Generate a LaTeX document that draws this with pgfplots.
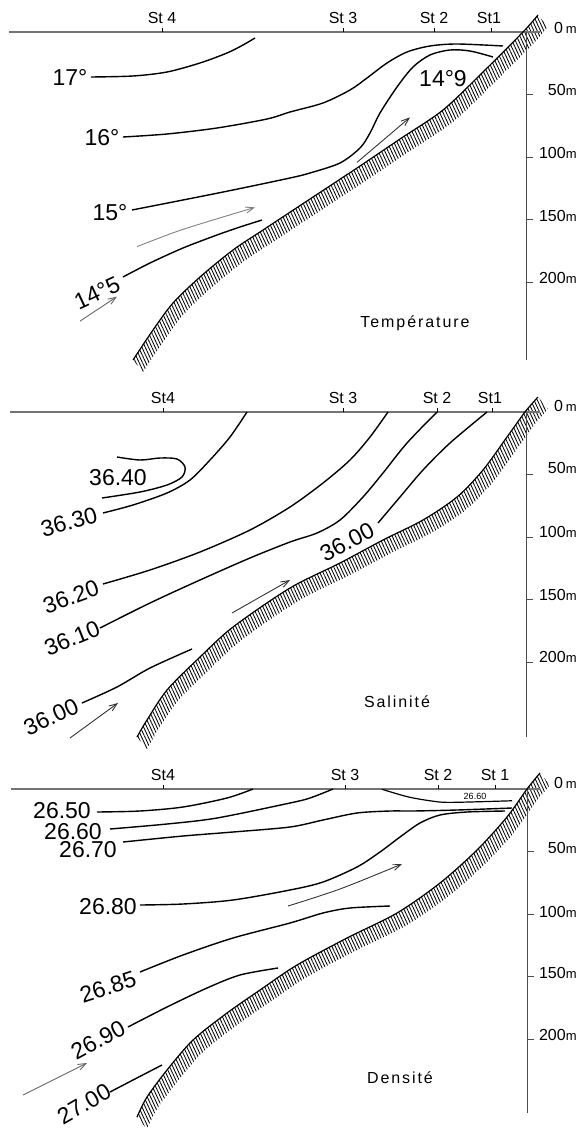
\documentclass[border=0pt]{standalone}
\usepackage{fontspec}
\setmainfont{Liberation Sans}
\usepackage{pgfplots}
\pgfplotsset{compat=1.18}
\usepgfplotslibrary{fillbetween}
\usetikzlibrary{patterns.meta,arrows.meta}
\newcommand{\dm}[1]{#1{\fontsize{6.5}{7}\selectfont m}}
\begin{document}
\begin{tikzpicture}
\pgfplotsset{
  panel/.style={scale only axis, width=290pt, xmin=0, xmax=580, y dir=reverse, hide axis, clip=false, anchor=north west},
}
\tikzset{
  iso/.style={line width=0.7pt, smooth, black},
  lab/.style={font=\fontsize{11.5}{12}\selectfont, inner sep=0pt},
  st/.style={font=\fontsize{8}{9}\selectfont, inner sep=0pt},
  hatch/.style={draw=none, pattern={Lines[angle=-65,distance=1.5pt,line width=0.42pt]}, pattern color=black},
  arr/.style={line width=0.45pt, -{Straight Barb[length=4pt,width=3pt]}},
  floor/.style={line width=0.6pt, smooth, tension=0.5, black},
  flooroff/.style={draw=none, smooth, tension=0.5},
}
% ================= Panel 1 : Temperature =================
\begin{axis}[panel, at={(0pt,0pt)}, height=185pt, ymin=-25.6, ymax=270.4]
\addplot[black!55, line width=0.6pt] coordinates {(9,0)(540,0)};
\addplot[line width=0.4pt, unbounded coords=jump] coordinates {(162,0)(162,-3.5)(162,nan)(343,0)(343,-3.5)(343,nan)(434,0)(434,-3.5)(434,nan)(491,0)(491,-3.5)};
\addplot[line width=0.4pt, black!70] coordinates {(526,0)(526,262)};
\addplot[line width=0.4pt, black!70, unbounded coords=jump] coordinates {(526,50)(533,50)(526,nan)(526,100)(533,100)(526,nan)(526,150)(533,150)(526,nan)(526,200)(533,200)};
% sea floor
\addplot[floor, name path=f1] coordinates {(538,-13.6)(523,0)(483,32)(443,62.4)(400,85.6)(357,108.8)(310,133.6)(263,158.4)(233,174.4)(200,196)(173,216.8)(153,238.4)(133,262.4)};
\addplot[flooroff, name path=g1] coordinates {(548,-4)(533,9.6)(493,41.6)(453,72)(410,95.2)(367,118.4)(320,143.2)(273,168)(243,184)(210,205.6)(183,226.4)(163,248)(143,272)};
\addplot[hatch] fill between[of=f1 and g1];
% isotherms
\addplot[iso] coordinates {(91,36)(133,35.2)(167,32)(200,24.8)(227,16.8)(243,10.4)(255,4.8)};
\addplot[iso] coordinates {(123,84)(167,81.6)(217,76.8)(267,69.6)(290,64)(323,56.8)(350,46.4)(367,36.8)(387,24.8)(407,16)(430,11.2)(457,9.6)(503,11.2)};
\addplot[iso] coordinates {(132,142.4)(183,134.4)(233,126.4)(290,116.8)(310,112.8)(340,104.8)(360,92.8)(370,80.8)(380,64.8)(397,44)(413,28)(430,18.4)(450,14.4)(470,15.2)(493,20)};
\addplot[iso] coordinates {(123,196)(150,184.8)(183,172.8)(217,162.4)(240,156)(262,150.4)};
% arrows
\addplot[arr, smooth, black!50] coordinates {(137,171.7)(183,157.9)(255,140.3)};
\addplot[arr, black!60] coordinates {(80,231.3)(117,211.7)};
\addplot[arr, black!80] coordinates {(357,104.3)(410,68.3)};
% labels
\node[lab] at (axis cs:70,36) {17°};
\node[lab] at (axis cs:102,84.8) {16°};
\node[lab] at (axis cs:110,144.8) {15°};
\node[lab] at (axis cs:443,37.6) {14°9};
\node[lab, rotate=25] at (axis cs:97,208.8) {14°5};
\node[st] at (axis cs:162,-11.2) {St 4};
\node[st] at (axis cs:343,-11.2) {St 3};
\node[st] at (axis cs:434,-11.2) {St 2};
\node[st] at (axis cs:489,-11.2) {St1};
\node[st, anchor=east] at (axis cs:577,-3.5) {\dm{0\,}};
\node[st, anchor=east] at (axis cs:577,46) {\dm{50}};
\node[st, anchor=east] at (axis cs:577,96.5) {\dm{100}};
\node[st, anchor=east] at (axis cs:577,147) {\dm{150}};
\node[st, anchor=east] at (axis cs:577,197) {\dm{200}};
\node[st] at (axis cs:415,232.8) {\addfontfeature{LetterSpace=12}Température};
\end{axis}
% ================= Panel 2 : Salinity =================
\begin{axis}[panel, at={(0pt,-185pt)}, height=190pt, ymin=-33.6, ymax=270.4]
\addplot[black!55, line width=0.6pt] coordinates {(10,0)(540,0)};
\addplot[line width=0.4pt, unbounded coords=jump] coordinates {(163,0)(163,-3.5)(163,nan)(343,0)(343,-3.5)(343,nan)(437,0)(437,-3.5)(437,nan)(492,0)(492,-3.5)};
\addplot[line width=0.4pt, black!70] coordinates {(526,0)(526,260)};
\addplot[line width=0.4pt, black!70, unbounded coords=jump] coordinates {(526,50)(533,50)(526,nan)(526,100)(533,100)(526,nan)(526,150)(533,150)(526,nan)(526,200)(533,200)};
\addplot[floor, name path=f2] coordinates {(538,-12)(525,0)(507,20)(483,46.4)(457,68)(423,86.4)(383,102.4)(340,120.8)(290,140.8)(233,172)(200,196)(167,222.4)(147,246.4)(137,260)};
\addplot[flooroff, name path=g2] coordinates {(548,-2.4)(535,9.6)(517,29.6)(493,56)(467,77.6)(433,96)(393,112)(350,130.4)(300,150.4)(243,181.6)(210,205.6)(177,232)(157,256)(147,269.6)};
\addplot[hatch] fill between[of=f2 and g2];
% isohalines
\addplot[iso] coordinates {(117,36)(140,38.4)(160,36.8)(177,37.6)(185,44)(182,52)(167,58.4)(140,64)(102,68.8)};
\addplot[iso] coordinates {(103,80.8)(133,74.4)(167,64.8)(190,54.4)(210,38.4)(230,20)(247,0)};
\addplot[iso] coordinates {(103,137.6)(150,126.4)(200,112)(250,94.4)(290,76)(323,56.8)(350,38.4)(370,20)(388,0)};
\addplot[iso] coordinates {(100,172.8)(150,152.8)(200,134.4)(250,116.8)(290,104)(317,96.8)(340,86.4)(363,68)(383,48.8)(407,24.8)(437,0)};
\addplot[iso] coordinates {(378,88.8)(400,68)(423,46.4)(450,24.8)(487,0)};
\addplot[iso] coordinates {(82,232.8)(117,220)(150,204.8)(192,189.6)};
\addplot[arr, black!80] coordinates {(232,160.8)(290,134.4)};
\addplot[arr, black!80] coordinates {(70,260.8)(118,232.8)};
\node[lab] at (axis cs:118,52.8) {36.40};
\node[lab, rotate=15] at (axis cs:69,88) {36.30};
\node[lab, rotate=20] at (axis cs:71,148) {36.20};
\node[lab, rotate=22] at (axis cs:72,180.8) {36.10};
\node[lab, rotate=28] at (axis cs:347,104) {36.00};
\node[lab, rotate=25] at (axis cs:51,244) {36.00};
\node[st] at (axis cs:163,-11.2) {St4};
\node[st] at (axis cs:343,-11.2) {St 3};
\node[st] at (axis cs:437,-11.2) {St 2};
\node[st] at (axis cs:490,-11.2) {St1};
\node[st, anchor=east] at (axis cs:577,-4.5) {\dm{0\,}};
\node[st, anchor=east] at (axis cs:577,45) {\dm{50}};
\node[st, anchor=east] at (axis cs:577,96) {\dm{100}};
\node[st, anchor=east] at (axis cs:577,146.4) {\dm{150}};
\node[st, anchor=east] at (axis cs:577,196) {\dm{200}};
\node[st] at (axis cs:397,232) {\addfontfeature{LetterSpace=12}Salinité};
\end{axis}
% ================= Panel 3 : Density =================
\begin{axis}[panel, at={(0pt,-375pt)}, height=189.5pt, ymin=-31.2, ymax=272]
\addplot[black!55, line width=0.6pt] coordinates {(11,0)(540,0)};
\addplot[line width=0.4pt, unbounded coords=jump] coordinates {(163,0)(163,-3.5)(163,nan)(345,0)(345,-3.5)(345,nan)(438,0)(438,-3.5)(438,nan)(495,0)(495,-3.5)};
\addplot[line width=0.4pt, black!70] coordinates {(527,0)(527,259)};
\addplot[line width=0.4pt, black!70, unbounded coords=jump] coordinates {(527,50)(534,50)(527,nan)(527,100)(534,100)(527,nan)(527,150)(534,150)(527,nan)(527,200)(534,200)};
\addplot[floor, name path=f3] coordinates {(540,-12.8)(527,0)(507,22.4)(477,48.8)(440,75.2)(397,99.2)(347,119.2)(297,140.8)(260,160.8)(227,179.2)(193,200.8)(167,224.8)(147,246.4)(137,262.4)};
\addplot[flooroff, name path=g3] coordinates {(550,-3.2)(537,9.6)(517,32)(487,58.4)(450,84.8)(407,108.8)(357,128.8)(307,150.4)(270,170.4)(237,188.8)(203,210.4)(177,234.4)(157,256)(147,272)};
\addplot[hatch] fill between[of=f3 and g3];
% isopycnals
\addplot[iso] coordinates {(97,18.4)(140,17.6)(183,14.4)(227,7.2)(253,0)};
\addplot[iso] coordinates {(110,32)(167,28)(217,23.2)(290,11.2)(310,7.2)(333,0)};
\addplot[iso, line width=0.6pt] coordinates {(382,0.2)(407,6.1)(430,9.4)(450,10.7)(512,9.4)};
\addplot[iso] coordinates {(123,42.4)(183,37.6)(233,34.4)(290,30.4)(323,24.8)(357,19.2)(390,17.6)(413,17.6)(457,16.8)(512,15.2)};
\addplot[iso] coordinates {(140,92.8)(183,92)(233,88.8)(290,80.8)(323,74.4)(357,62.4)(380,50.4)(400,38.4)(420,27.2)(440,20.8)(467,18.4)(505,17.6)};
\addplot[iso] coordinates {(140,146.4)(183,132.8)(233,119.2)(290,107.2)(323,99.2)(350,95.2)(390,93.6)};
\addplot[iso] coordinates {(128,190.4)(167,174.4)(207,159.2)(240,148.8)(278,143.2)};
\addplot[iso] coordinates {(110,242.4)(133,232.8)(162,220.8)};
\addplot[arr, smooth, black!80] coordinates {(288,93.6)(340,80)(402,60)};
\addplot[arr, black!60] coordinates {(23,244.8)(87,219.2)};
\node[lab] at (axis cs:62,17.6) {26.50};
\node[lab] at (axis cs:73,34.4) {26.60};
\node[lab] at (axis cs:88,48.8) {26.70};
\node[lab] at (axis cs:108,94.4) {26.80};
\node[lab, rotate=18] at (axis cs:108,158.4) {26.85};
\node[lab, rotate=28] at (axis cs:98,200.8) {26.90};
\node[lab, rotate=30] at (axis cs:84,252) {27.00};
\node[font=\fontsize{4.5}{5}\selectfont, inner sep=0pt] at (axis cs:475,5.6) {26.60};
\node[st] at (axis cs:163,-11.2) {St4};
\node[st] at (axis cs:345,-11.2) {St 3};
\node[st] at (axis cs:438,-11.2) {St 2};
\node[st] at (axis cs:495,-11.2) {St 1};
\node[st, anchor=east] at (axis cs:577,-4.5) {\dm{0\,}};
\node[st, anchor=east] at (axis cs:577,47) {\dm{50}};
\node[st, anchor=east] at (axis cs:577,98) {\dm{100}};
\node[st, anchor=east] at (axis cs:577,147) {\dm{150}};
\node[st, anchor=east] at (axis cs:577,196.8) {\dm{200}};
\node[st] at (axis cs:400,231.2) {\addfontfeature{LetterSpace=12}Densité};
\end{axis}
\pgfresetboundingbox
\useasboundingbox (0,0) rectangle (290pt,-564.5pt);
\end{tikzpicture}
\end{document}
